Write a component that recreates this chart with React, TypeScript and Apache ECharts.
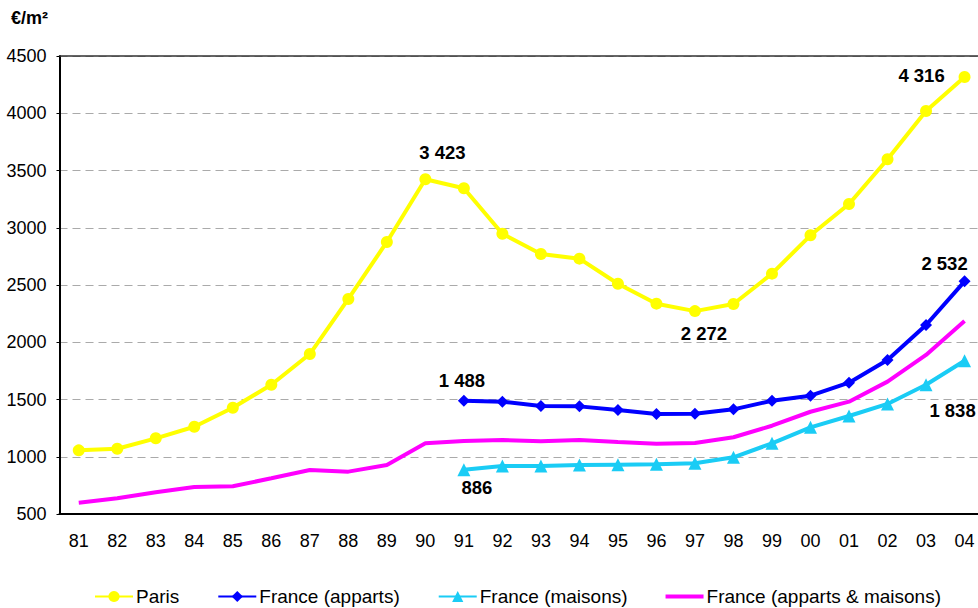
import React, { useEffect, useRef } from "react";
import * as echarts from "echarts";

const years = ["81","82","83","84","85","86","87","88","89","90","91","92","93","94","95","96","97","98","99","00","01","02","03","04"];
const yTicks = { min: 500, max: 4500, interval: 500 };

const paris = [1056,1070,1161,1262,1428,1629,1897,2378,2876,3423,3345,2948,2771,2730,2511,2337,2272,2334,2599,2934,3207,3598,4020,4316];
const appts = [null,null,null,null,null,null,null,null,null,null,1488,1481,1443,1440,1408,1373,1376,1414,1489,1533,1647,1845,2151,2532];
const maisons = [null,null,null,null,null,null,null,null,null,null,886,919,919,928,931,934,943,995,1117,1257,1356,1461,1629,1838];
const ensemble = [599,637,690,736,742,812,884,870,928,1117,1138,1146,1135,1146,1129,1114,1120,1170,1271,1393,1481,1656,1889,2186];

const seriesNames = ["Paris","France (apparts)","France (maisons)","France (apparts & maisons)"];

// labelled points: [seriesIndex, categoryIndex, offset]
const labelled: [number, number, [number, number]][] = [
  [0, 9, [17, -27]],
  [0, 23, [-43, -2]],
  [0, 16, [9, 22]],
  [1, 10, [-2, -20]],
  [1, 23, [-20, -18]],
  [2, 10, [13, 18]],
  [2, 23, [-12, 50]],
];

const fmt = (v: number) => String(v).replace(/\B(?=(\d{3})+(?!\d))/g, " ");

export default function App() {
  const ref = useRef<HTMLDivElement>(null);
  useEffect(() => {
    if (!ref.current) return;
    const chart = echarts.init(ref.current, undefined, { renderer: "svg" });
    const raw = [paris, appts, maisons, ensemble];
    const font = "Liberation Sans";
    const build = (si: number) =>
      raw[si].map((v, ci) => {
        if (v === null) return "-";
        const l = labelled.find((d) => d[0] === si && d[1] === ci);
        if (!l) return v;
        return {
          value: v,
          label: {
            show: true,
            position: "inside",
            offset: l[2],
            formatter: (p: any) => fmt(p.value),
            color: "#000",
            fontFamily: font,
            fontWeight: "bold",
            fontSize: 18.5,
          },
        };
      });
    chart.setOption({
      animation: false,
      backgroundColor: "#fff",
      grid: { left: 59.5, width: 924.3, top: 56, bottom: 94, outerBoundsMode: "none", containLabel: false },
      graphic: [
        {
          type: "text",
          left: 11,
          top: 9,
          style: { text: "€/m²", font: `bold 18px ${font}`, fill: "#000" },
        },
      ],
      legend: {
        left: 94,
        top: 587,
        padding: 0,
        itemWidth: 38,
        itemHeight: 14,
        itemGap: 38,
        textStyle: { fontFamily: font, fontSize: 19, color: "#000", padding: [0, 0, 0, -2] },
        data: [
          { name: seriesNames[0] },
          { name: seriesNames[1] },
          { name: seriesNames[2] },
          { name: seriesNames[3], icon: "path://M0,0 H38 V4 H0 Z" },
        ],
      },
      xAxis: [
        {
          type: "category",
          data: years,
          boundaryGap: true,
          axisLine: { lineStyle: { color: "#000", width: 2 } },
          axisTick: { inside: true, length: 6, lineStyle: { color: "#000", width: 1.5 } },
          axisLabel: { fontFamily: font, fontSize: 18, color: "#000", margin: 18 },
          splitLine: { show: false },
        },
        {
          type: "category",
          data: years,
          position: "top",
          axisLine: { lineStyle: { color: "#333", width: 1.5 } },
          axisTick: { show: false },
          axisLabel: { show: false },
        },
      ],
      yAxis: {
        type: "value",
        min: yTicks.min,
        max: yTicks.max,
        interval: yTicks.interval,
        axisLine: { show: true, lineStyle: { color: "#000", width: 2 } },
        axisTick: { show: true, length: 3, lineStyle: { color: "#000" } },
        axisLabel: {
          fontFamily: font,
          fontSize: 18,
          color: "#000",
          margin: 13,
          formatter: (v: number) => String(v),
        },
        splitLine: { lineStyle: { color: "#aaa", type: [8, 5], width: 1.2 } },
      },
      series: [
        {
          name: seriesNames[0],
          type: "line",
          data: build(0),
          symbol: "circle",
          symbolSize: 12,
          lineStyle: { color: "#FFFF00", width: 4 },
          itemStyle: { color: "#FFFF00" },
          z: 4,
        },
        {
          name: seriesNames[1],
          type: "line",
          data: build(1),
          symbol: "diamond",
          symbolSize: 12,
          lineStyle: { color: "#0000FF", width: 4 },
          itemStyle: { color: "#0000FF" },
          z: 4,
        },
        {
          name: seriesNames[2],
          type: "line",
          data: build(2),
          symbol: "triangle",
          symbolSize: 13,
          lineStyle: { color: "#1ACCF5", width: 4 },
          itemStyle: { color: "#1ACCF5" },
          z: 3,
        },
        {
          name: seriesNames[3],
          type: "line",
          data: build(3),
          symbol: "none",
          lineStyle: { color: "#FF00FF", width: 4 },
          itemStyle: { color: "#FF00FF" },
          z: 2,
        },
      ],
    });
    return () => chart.dispose();
  }, []);
  return (
    <div
      ref={ref}
      style={{ position: "absolute", left: 0, top: 0, width: 978, height: 608 }}
    />
  );
}
